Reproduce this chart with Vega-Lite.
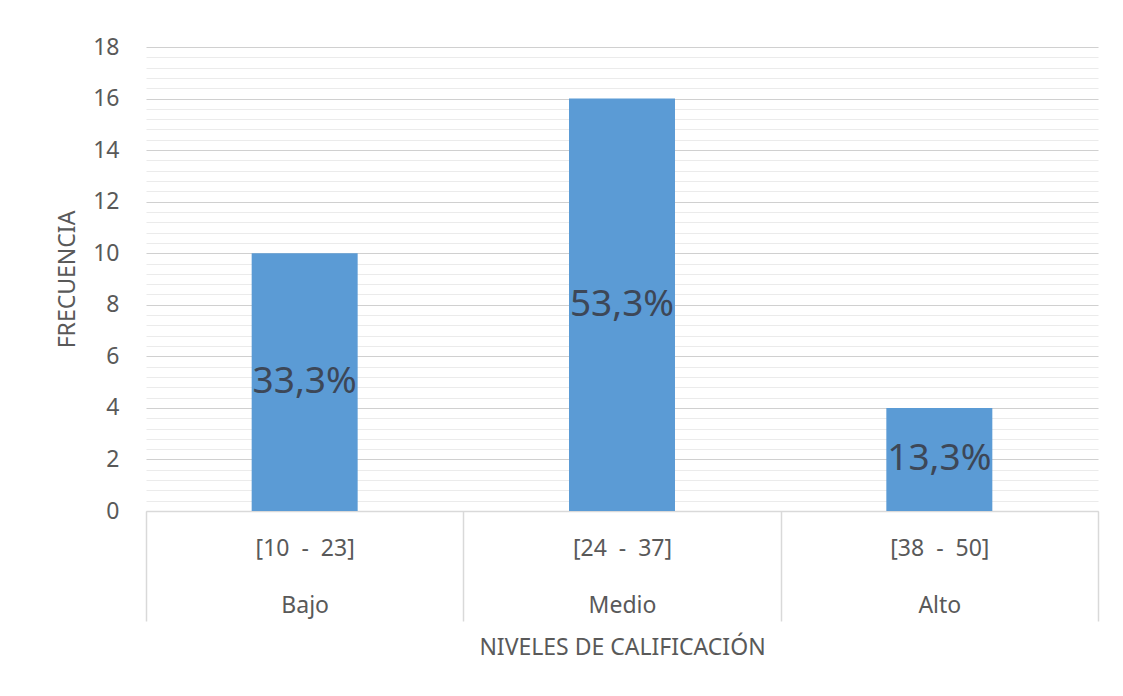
{
  "$schema": "https://vega.github.io/schema/vega-lite/v6.json",
  "width": 952,
  "height": 464,
  "autosize": {"type": "none"},
  "padding": {"left": 146, "top": 47, "right": 25, "bottom": 185},
  "background": "white",
  "config": {
    "view": {"stroke": null},
    "font": "Noto Sans"
  },
  "data": {
    "values": [
      {"nivel": "[10\u00a0\u00a0-\u00a0\u00a023]|Bajo", "frecuencia": 10, "pct": "33,3%"},
      {"nivel": "[24\u00a0\u00a0-\u00a0\u00a037]|Medio", "frecuencia": 16, "pct": "53,3%"},
      {"nivel": "[38\u00a0\u00a0-\u00a0\u00a050]|Alto", "frecuencia": 4, "pct": "13,3%"}
    ]
  },
  "transform": [{"calculate": "datum.frecuencia / 2", "as": "mitad"}],
  "encoding": {
    "x": {
      "field": "nivel",
      "type": "nominal",
      "sort": null,
      "scale": {"paddingInner": 0, "paddingOuter": 0},
      "axis": {
        "title": "NIVELES DE CALIFICACIÓN",
        "titleFont": "Noto Sans",
        "titleFontSize": 23,
        "titleFontWeight": "normal",
        "titleColor": "#595959",
        "titlePadding": 15,
        "labelExpr": "split(datum.label, '|')",
        "labelAngle": 0,
        "labelFontSize": 23,
        "labelColor": "#595959",
        "labelLineHeight": 57,
        "labelPadding": -73,
        "labelBaseline": "middle",
        "domainColor": "#d9d9d9",
        "domainWidth": 1.5,
        "tickBand": "extent",
        "tickSize": 110,
        "tickColor": "#d9d9d9",
        "tickWidth": 1.5,
        "grid": false
      }
    }
  },
  "layer": [
    {
      "mark": {"type": "bar", "color": "#5b9bd5", "width": {"band": 0.334}},
      "encoding": {
        "y": {
          "field": "frecuencia",
          "type": "quantitative",
          "scale": {"domain": [0, 18], "nice": false},
          "axis": {
            "title": "FRECUENCIA",
            "titleFont": "Noto Sans",
            "titleFontSize": 23,
            "titleFontWeight": "normal",
            "titleColor": "#595959",
            "titlePadding": 13,
            "tickCount": 100,
            "format": ".0f",
            "values": [0, 0.4, 0.8, 1.2, 1.6, 2, 2.4, 2.8, 3.2, 3.6, 4, 4.4, 4.8, 5.2, 5.6, 6, 6.4, 6.8, 7.2, 7.6, 8, 8.4, 8.8, 9.2, 9.6, 10, 10.4, 10.8, 11.2, 11.6, 12, 12.4, 12.8, 13.2, 13.6, 14, 14.4, 14.8, 15.2, 15.6, 16, 16.4, 16.8, 17.2, 17.6, 18],
            "labelExpr": "datum.value % 2 === 0 ? datum.label : ''",
            "labelOverlap": false,
            "labelFontSize": 23,
            "labelColor": "#595959",
            "labelPadding": 27,
            "domain": false,
            "ticks": false,
            "grid": true,
            "gridColor": {"condition": {"test": "datum.value % 2 === 0", "value": "#d0d0d0"}, "value": "#ebebeb"},
            "gridWidth": 1.2
          }
        }
      }
    },
    {
      "mark": {"type": "text", "fontSize": 37, "color": "#3d4757", "font": "Noto Sans"},
      "encoding": {
        "y": {"field": "mitad", "type": "quantitative"},
        "text": {"field": "pct"}
      }
    }
  ]
}
